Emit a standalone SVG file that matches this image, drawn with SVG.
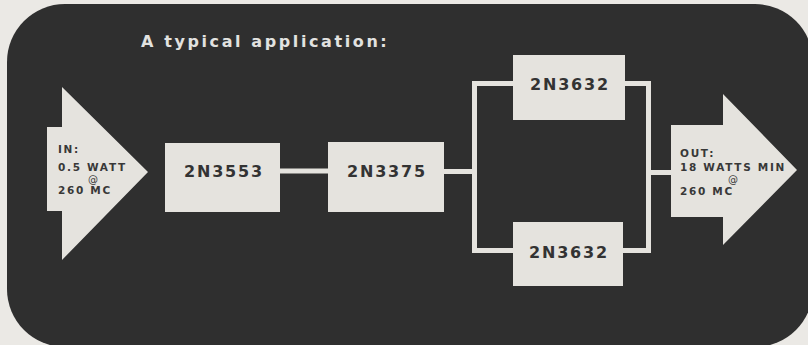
<svg xmlns="http://www.w3.org/2000/svg" width="808" height="345" viewBox="0 0 808 345">
  <style>
    .panel { fill: #2f2f2f; }
    .box { fill: #e5e3de; }
    .wire { stroke: #e5e3de; stroke-width: 5; fill: none; stroke-linecap: square; }
    .lbl { font-family: "DejaVu Sans", "Liberation Sans", sans-serif; font-weight: bold; font-size: 16px; letter-spacing: 1.8px; fill: #333333; text-anchor: middle; }
    .sm { font-family: "DejaVu Sans", "Liberation Sans", sans-serif; font-weight: bold; font-size: 10.5px; letter-spacing: 1.7px; fill: #383838; }
    .at { font-family: "DejaVu Sans", "Liberation Sans", sans-serif; font-size: 10px; fill: #383838; text-anchor: middle; }
    .title { font-family: "DejaVu Sans", "Liberation Sans", sans-serif; font-weight: bold; font-size: 16px; letter-spacing: 2.6px; fill: #e2e2e0; }
  </style>
  <rect x="0" y="0" width="808" height="345" fill="#ebe9e5"/>
  <rect class="panel" x="7" y="4" width="806" height="343" rx="58" ry="58"/>
  <text class="title" x="141" y="47">A typical application:</text>

  <g id="connectors">
    <line class="wire" x1="280" y1="171" x2="328" y2="171"/>
    <line class="wire" x1="444" y1="171.5" x2="474.5" y2="171.5"/>
    <polyline class="wire" points="513,83.5 474.5,83.5 474.5,250.5 513,250.5"/>
    <polyline class="wire" points="625,83.5 648.5,83.5 648.5,250.5 623,250.5"/>
    <line class="wire" x1="648.5" y1="172.5" x2="671" y2="172.5"/>
  </g>

  <g id="in">
    <polygon class="box" points="47,127 62,127 62,87 148,172 62,260 62,211 47,211"/>
    <text class="sm" x="58" y="153">IN:</text>
    <text class="sm" x="58" y="171">0.5 WATT</text>
    <text class="at" x="93" y="183">@</text>
    <text class="sm" x="58" y="194">260 MC</text>
  </g>

  <g id="n2N3553">
    <rect class="box" x="165" y="143" width="115" height="69"/>
    <text class="lbl" x="224" y="177">2N3553</text>
  </g>

  <g id="n2N3375">
    <rect class="box" x="328" y="142" width="116" height="70"/>
    <text class="lbl" x="387" y="177">2N3375</text>
  </g>

  <g id="n2N3632a">
    <rect class="box" x="513" y="55" width="112" height="65"/>
    <text class="lbl" x="570" y="90">2N3632</text>
  </g>

  <g id="n2N3632b">
    <rect class="box" x="513" y="222" width="110" height="64"/>
    <text class="lbl" x="569" y="258">2N3632</text>
  </g>

  <g id="out">
    <polygon class="box" points="671,125 723,125 723,94 797,170 723,245 723,217 671,217"/>
    <text class="sm" x="680" y="157">OUT:</text>
    <text class="sm" x="680" y="171">18 WATTS MIN</text>
    <text class="at" x="733" y="183">@</text>
    <text class="sm" x="680" y="195">260 MC</text>
  </g>
</svg>
